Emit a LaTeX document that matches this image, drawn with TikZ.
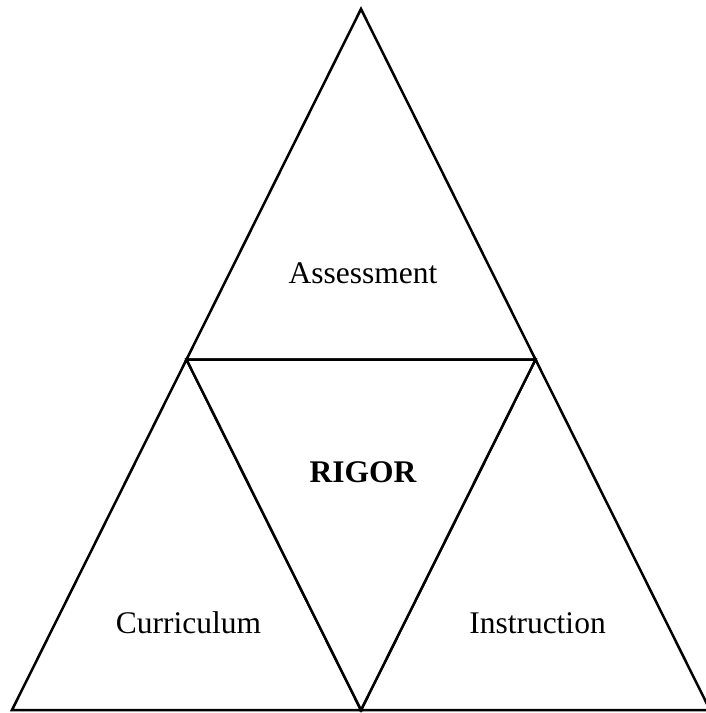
\documentclass[tikz,border=0pt]{standalone}
\usepackage{fontspec}
\setmainfont{Liberation Serif}
\begin{document}
\begin{tikzpicture}[x=1pt,y=-1pt,
  tri/.style={draw=black,line width=2.5pt,fill=white,line join=miter},
  lbl/.style={anchor=base,inner sep=0pt,font=\fontsize{31.5}{36}\selectfont}]
\useasboundingbox (0,0) rectangle (705,713);
\coordinate (A) at (361,9);
\coordinate (L) at (12,710);
\coordinate (R) at (710,710);
\coordinate (ML) at (186.5,359.5);
\coordinate (MR) at (535.5,359.5);
\coordinate (MB) at (361,710);
\draw[tri] (A) -- (ML) -- (MR) -- cycle;
\draw[tri] (ML) -- (L) -- (MB) -- cycle;
\draw[tri] (MR) -- (MB) -- (R) -- cycle;
\draw[tri] (ML) -- (MR) -- (MB) -- cycle;
\node[lbl] (assess) at (363,283) {Assessment};
\node[lbl,font=\fontsize{31.5}{36}\selectfont\bfseries] (rigor) at (363,482) {RIGOR};
\node[lbl] (curr) at (188.5,633) {Curriculum};
\node[lbl] (instr) at (537.5,633) {Instruction};
\end{tikzpicture}
\end{document}
